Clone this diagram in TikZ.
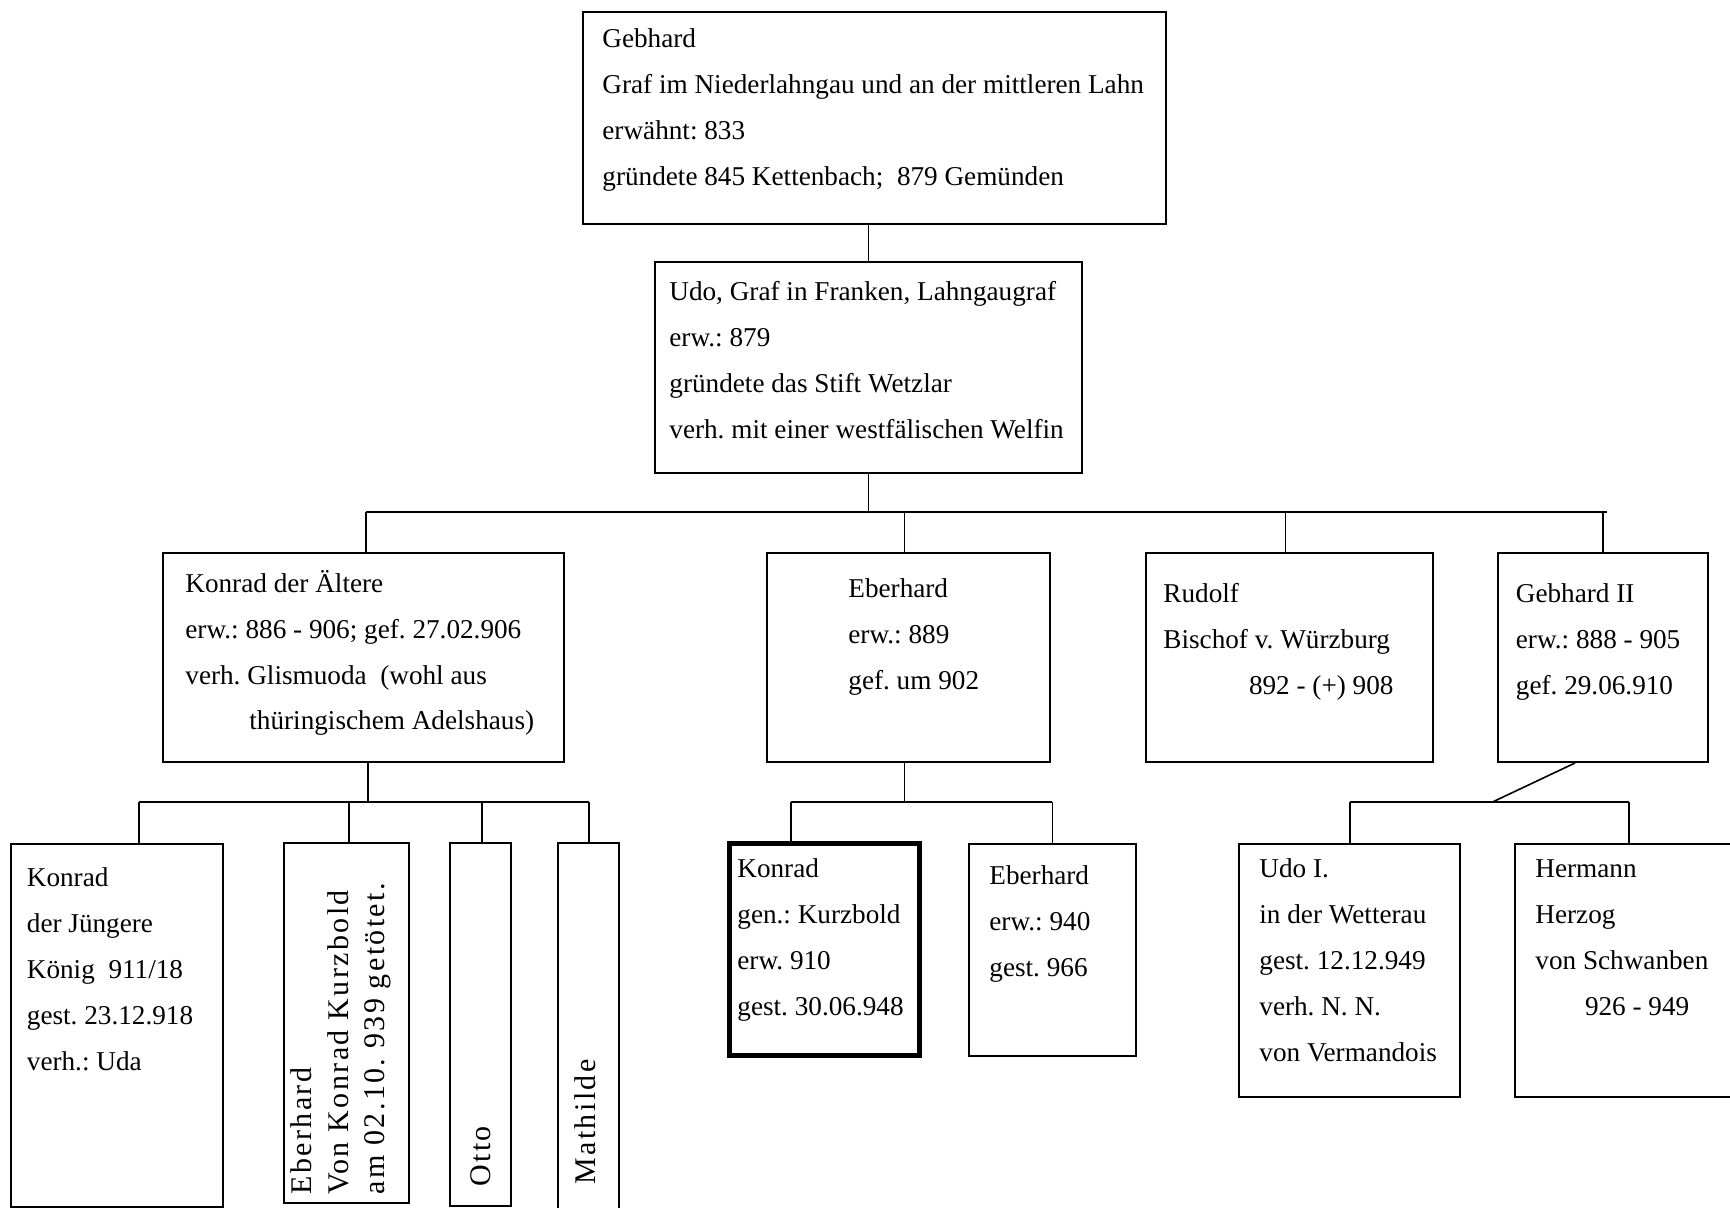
\documentclass[tikz,border=0pt]{standalone}
\usepackage{fontspec}
\setmainfont{Liberation Serif}
\newfontfamily\vertfont[LetterSpace=8]{Liberation Serif}
\usetikzlibrary{fit}
\frenchspacing
\newcommand\TLine[1]{\hbox{#1}}
\newcommand\Lines[1]{\vtop{#1}}
\tikzset{
  box/.style={draw, line width=1pt, inner sep=0pt},
  thickbox/.style={draw, line width=2.5pt, inner sep=0pt},
  conn/.style={line width=0.8pt},
  bar/.style={line width=1pt},
  mainbar/.style={line width=1.3pt},
  txt/.style={anchor=base west, inner sep=0pt, font=\frenchspacing\fontsize{13.6}{23}\selectfont},
  vtxt/.style={anchor=base west, inner sep=0pt, rotate=90, font=\frenchspacing\vertfont\fontsize{15}{18.3}\selectfont},
}
\begin{document}
\begin{tikzpicture}[x=0.5pt,y=-0.5pt]
\useasboundingbox (0,0) rectangle (1730,1208);
\clip (0,0) rectangle (1730,1208);

% ---- boxes ----
\node[box, fit={(583,12) (1166,224)}] (geb) {};
\node[box, fit={(655,262) (1082,473)}] (udo) {};
\node[box, fit={(163,553) (564,762)}] (kA) {};
\node[box, fit={(766.5,553) (1049.7,762)}] (eb) {};
\node[box, fit={(1146,553) (1433,762)}] (rud) {};
\node[box, fit={(1498,553) (1708,762)}] (gebII) {};
\node[box, fit={(11,844) (223,1207)}] (kJ) {};
\node[box, fit={(284,843) (409,1203)}] (ebV) {};
\node[box, fit={(450,843) (511,1206)}] (otto) {};
\node[box, fit={(558,843) (619,1215)}] (mat) {};
\node[thickbox, fit={(729,843.5) (919,1055)}] (kK) {};
\node[box, fit={(969,844) (1135.6,1055.7)}] (eb2) {};
\node[box, fit={(1239,844) (1460,1097)}] (udoI) {};
\node[box, fit={(1515,844) (1745,1097)}] (her) {};

% ---- texts ----
\node[txt] (tgeb) at (602,48) {\Lines{\TLine{Gebhard}\TLine{Graf im Niederlahngau und an der mittleren Lahn}\TLine{erwähnt: 833}\TLine{gründete 845 Kettenbach;\ \ 879 Gemünden}}};
\node[txt] (tudo) at (669,301) {\Lines{\TLine{Udo, Graf in Franken, Lahngaugraf}\TLine{erw.: 879}\TLine{gründete das Stift Wetzlar}\TLine{verh. mit einer westfälischen Welfin}}};
\node[txt] (tkA) at (185,592) {\Lines{\TLine{Konrad der Ältere}\TLine{erw.: 886 - 906; gef. 27.02.906}\TLine{verh. Glismuoda\ \ (wohl aus}\TLine{\hspace*{32pt}thüringischem Adelshaus)}}};
\node[txt] (teb) at (848,597) {\Lines{\TLine{Eberhard}\TLine{erw.: 889}\TLine{gef. um 902}}};
\node[txt] (trud) at (1163,603) {\Lines{\TLine{Rudolf}\TLine{Bischof v. Würzburg}\TLine{\hspace*{42.8pt}892 - (+) 908}}};
\node[txt] (tgebII) at (1515.5,603) {\Lines{\TLine{Gebhard II}\TLine{erw.: 888 - 905}\TLine{gef. 29.06.910}}};
\node[txt] (tkJ) at (26.5,886) {\Lines{\TLine{Konrad}\TLine{der Jüngere}\TLine{König\ \ 911/18}\TLine{gest. 23.12.918}\TLine{verh.: Uda}}};
\node[txt] (tkK) at (737,877) {\Lines{\TLine{Konrad}\TLine{gen.: Kurzbold}\TLine{erw. 910}\TLine{gest. 30.06.948}}};
\node[txt] (teb2) at (989,884) {\Lines{\TLine{Eberhard}\TLine{erw.: 940}\TLine{gest. 966}}};
\node[txt] (tudoI) at (1259,877) {\Lines{\TLine{Udo I.}\TLine{in der Wetterau}\TLine{gest. 12.12.949}\TLine{verh. N. N.}\TLine{von Vermandois}}};
\node[txt] (ther) at (1535,877) {\Lines{\TLine{Hermann}\TLine{Herzog}\TLine{von Schwanben}\TLine{\hspace*{24.8pt}926 - 949}}};

\node[vtxt] (tebV) at (311.7,1195) {\Lines{\TLine{Eberhard}\TLine{Von Konrad Kurzbold}\TLine{am 02.10. 939 getötet.}}};
\node[vtxt] (totto) at (490,1187) {Otto};
\node[vtxt] (tmat) at (595,1185) {Mathilde};

% ---- connectors ----
\draw[conn] (udo.north) -- (udo.north |- geb.south);

\coordinate (b1L) at (366,512);
\coordinate (b1R) at (1607,512);
\coordinate (b1e) at (904.6,512);
\coordinate (b1r) at (1285.5,512);
\coordinate (b1g) at (1603,512);
\draw[conn] (udo.south) -- (udo.south |- b1L);
\draw[mainbar] (b1L) -- (b1R);
\draw[conn] (b1L) -- (b1L |- kA.north);
\draw[conn] (b1e) -- (b1e |- eb.north);
\draw[conn] (b1r) -- (b1r |- rud.north);
\draw[conn] (b1g) -- (b1g |- gebII.north);

% Konrad der Aeltere children
\coordinate (k0) at (368,802);
\coordinate (k1) at (139,802);
\coordinate (k2) at (349,802);
\coordinate (k3) at (482,802);
\coordinate (k4) at (589,802);
\draw[conn] (k0 |- kA.south) -- (k0);
\draw[bar] (k1) -- (k4);
\draw[conn] (k1) -- (k1 |- kJ.north);
\draw[conn] (k2) -- (k2 |- ebV.north);
\draw[conn] (k3) -- (k3 |- otto.north);
\draw[conn] (k4) -- (k4 |- mat.north);

% Eberhard children
\coordinate (e0) at (904.5,802);
\coordinate (e1) at (791,802);
\coordinate (e2) at (1052.4,802);
\draw[conn] (e0 |- eb.south) -- (e0);
\draw[bar] (e1) -- (e2);
\draw[conn] (e1) -- (e1 |- kK.north);
\draw[conn] (e2) -- (e2 |- eb2.north);

% Gebhard II children
\coordinate (gd) at (1575,762);
\coordinate (g0) at (1492.5,802);
\coordinate (g1) at (1350,802);
\coordinate (g2) at (1629,802);
\draw[conn] (gd |- gebII.south) -- (g0);
\draw[bar] (g1) -- (g2);
\draw[conn] (g1) -- (g1 |- udoI.north);
\draw[conn] (g2) -- (g2 |- her.north);
\end{tikzpicture}
\end{document}
